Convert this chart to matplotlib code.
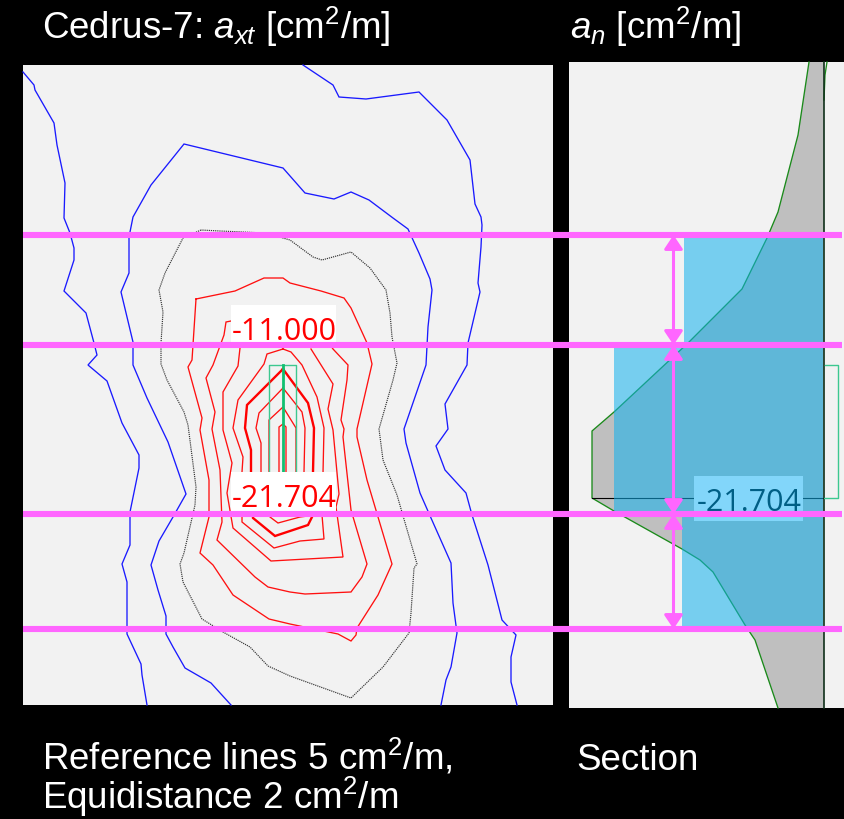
import matplotlib
matplotlib.use('Agg')
import matplotlib.pyplot as plt
import numpy as np

plt.rcParams['mathtext.fontset'] = 'custom'
plt.rcParams['mathtext.rm'] = 'Liberation Sans'
plt.rcParams['mathtext.it'] = 'Liberation Sans:italic'
plt.rcParams['mathtext.default'] = 'regular'

# contour lines (x, y in picture units)
blue_a = [(23,72),(34,85),(35,90),(54,123),(57,145),(65,183),(64,218),(70,233),(74,248),(74,260),(64,291),(86,313),
          (94,343),(97,355),(88,365),(107,381),(122,423),(139,455),(139,468),(130,512),(130,545),(122,564),(127,582),
          (127,634),(141,664),(142,675),(147,705)]
blue_b = [(231,705),(211,683),(185,668),(173,647),(166,634),(166,616),(158,590),(151,565),(159,541),(173,517),(186,494),
          (168,442),(147,398),(133,365),(133,342),(121,292),(129,273),(129,237),(133,217),(151,185),(184,144),(283,168),
          (305,193),(334,199),(351,192),(369,200),(393,218),(408,229),(419,253),(430,279),(432,290),(428,327),(426,365),
          (404,429),(406,443),(420,493),(431,518),(451,563),(453,603),(457,633),(451,667),(446,680),(441,705)]
blue_c = [(303,65),(333,85),(339,97),(366,99),(419,92),(447,120),(470,160),(475,204),(481,217),(482,225),(481,247),
          (478,283),(480,292),(468,343),(467,365),(445,404),(448,429),(436,446),(445,470),(466,493),(472,515),(488,565),
          (502,620),(516,635),(511,657),(511,682),(517,705)]
grey_zero = [(201,230),(183,238),(165,273),(159,290),(163,312),(161,343),(161,364),(167,380),(184,412),(188,425),(196,487),
             (195,505),(184,553),(180,564),(183,582),(202,619),(223,632),(250,647),(268,666),(290,676),(351,698),(383,667),
             (409,633),(411,613),(414,568),(417,564),(397,495),(383,460),(379,429),(393,380),(397,363),(392,337),(390,313),
             (386,290),(370,268),(351,252),(322,260),(313,257),(290,240),(265,233),(220,231),(201,230)]
red_1 = [(196,299),(235,291),(264,278),(283,278),(290,283),(321,291),(344,298),(351,308),(367,343),(372,364),(357,429),
         (357,437),(367,480),(392,564),(378,595),(357,628),(356,635),(351,641),(338,634),(290,624),(269,619),(233,595),
         (213,565),(200,553),(209,517),(209,480),(200,430),(202,418),(188,367),(192,360),(196,299)]
red_2 = [(231,321),(226,322),(224,335),(213,365),(206,378),(215,412),(212,429),(220,470),(222,522),(217,540),(255,577),
         (268,587),(290,592),(305,594),(351,592),(362,577),(367,564),(351,510),(343,437),(344,429),(341,420),(347,380),
         (348,365),(333,349),(320,330)]
red_3 = [(240,348),(238,366),(223,392),(223,430),(232,463),(227,493),(233,528),(271,561),(343,557),(336,507),(339,494),
         (333,430),(328,409),(333,384),(311,349)]
red_4 = [(283,349),(291,352),(302,365),(317,397),(324,428),(323,473),(322,515),(324,539),(300,541),(274,548),(242,522),
         (242,508),(242,472),(243,457),(233,428),(238,400),(264,364),(267,354),(283,349)]
red_5 = [(283,369),(308,403),(314,428),(313,472),(313,507),(312,517),(308,525),(275,536),(253,518),(251,472),(251,450),
         (245,428),(247,405),(283,369)]
red_6 = [(283,388),(302,412),(305,428),(304,472),(308,516),(300,517),(278,523),(270,517),(261,472),(261,443),(256,428),
         (259,413),(283,388)]
red_7 = [(269,472),(269,420),(283,407),(296,428),(296,472)]
red_8 = [(279,472),(279,427),(283,424),(286,427),(286,472)]

# section profile of a_n
section_x = [809,798,778,767,742,688,614,592,592,614,682,700,713,745,755,778]
section_y = [62,135,212,238,289,343,412,431,498,511,549,560,572,625,640,708]
axis_x = 824

# required reinforcement bands and reference levels
ref_levels = [235, 345, 514, 629]
band_left = [684, 614, 682]
band_top = [238, 345, 514]
band_bottom = [345, 514, 629]
band_right = 823
arrow_x = 673.5
label_11 = '-11.000'
label_21 = '-21.704'

fig = plt.figure(figsize=(8.44, 8.19), dpi=100, facecolor='black')
ax = fig.add_axes([0, 0, 1, 1])
ax.set_xlim(0, 844)
ax.set_ylim(819, 0)
ax.axis('off')

# panels
ax.fill_between([23, 553], 65, 705, color='#f2f2f2', lw=0, zorder=1)
ax.fill_between([569, 844], 62, 708, color='#f2f2f2', lw=0, zorder=1)


def line(pts, **kw):
    p = np.array(pts)
    ax.plot(p[:, 0], p[:, 1], solid_joinstyle='miter', **kw)


for c in (blue_a, blue_b, blue_c):
    line(c, color='#1a1aff', lw=0.95, zorder=2)
ax.plot(*np.array(grey_zero).T, color='#333333', lw=0.85, ls=(0, (1, 0.8)), zorder=2)
for c in (red_1, red_2, red_3, red_4, red_6, red_7, red_8):
    line(c, color='#ff1010', lw=0.95, zorder=2)
line(red_5, color='#ff0000', lw=1.7, zorder=2)

# column outline
green = '#3cc890'
ax.plot([269, 269, 296, 296], [500, 365, 365, 500], color=green, lw=1, zorder=3)
ax.plot([283, 283], [365, 500], color='#10c070', lw=2, zorder=3)

# contour labels
for txt, top, bot, base in ((label_11, 305, 345, 340), (label_21, 472, 511, 507)):
    ax.fill_between([231, 336], top, bot, color='white', lw=0, zorder=4)
    ax.text(284.5, base, txt, color='#ff0000', fontsize=22, family='Open Sans',
            ha='center', va='baseline', zorder=5)

# section
ax.fill(section_x + [axis_x, axis_x], section_y + [708, 62], color='#bfbfbf', lw=0, zorder=2)
ax.plot(section_x, section_y, color='#1a8a1a', lw=0.95, zorder=3)
ax.plot([827, 825, 824], [62, 75, 100], color='#1a8a1a', lw=0.95, zorder=3)
ax.plot([axis_x, axis_x], [62, 708], color='#10301a', lw=1.2, zorder=3)
ax.plot([592, axis_x], [498, 498], color='black', lw=0.8, zorder=3)
ax.plot([axis_x, 838, 838, 825], [498, 498, 365, 365], color=green, lw=1, zorder=3)

for left, top, bottom in zip(band_left, band_top, band_bottom):
    ax.fill_between([left, band_right], top, bottom, color='#11b2ee', alpha=0.55, lw=0, zorder=4)

ax.fill_between([694, 803], 476, 521, color='#82d6fa', lw=0, zorder=5)
ax.text(749.5, 511, label_21, color='#005f85', fontsize=22, family='Open Sans',
        ha='center', va='baseline', zorder=6)

# reference lines and arrows
for y in ref_levels:
    ax.plot([23, 842], [y, y], color='#ff66ff', lw=4.4, solid_capstyle='butt', zorder=7)
for top, bottom in zip(ref_levels[:-1], ref_levels[1:]):
    ax.annotate('', xy=(arrow_x, bottom), xytext=(arrow_x, top),
                arrowprops=dict(arrowstyle='<|-|>,head_length=0.6,head_width=0.4', color='#ff66ff', lw=2.2,
                                mutation_scale=14, shrinkA=0, shrinkB=0), zorder=8)

# captions
cap = dict(color='white', fontsize=26.5, family='Liberation Sans', va='baseline', ha='left')
ax.text(42, 39, r'Cedrus-7: $\mathit{a}_{\mathit{xt}}$ [cm$^{2}$/m]', **cap)
ax.text(570, 39, r'$\mathit{a}_{\mathit{n}}$ [cm$^{2}$/m]', **cap)
ax.text(42, 770, r'Reference lines 5 cm$^{2}$/m,', **cap)
ax.text(42, 809, r'Equidistance 2 cm$^{2}$/m', **cap)
ax.text(576, 770, 'Section', **cap)

fig.savefig('out.png', dpi=100, facecolor='black')
